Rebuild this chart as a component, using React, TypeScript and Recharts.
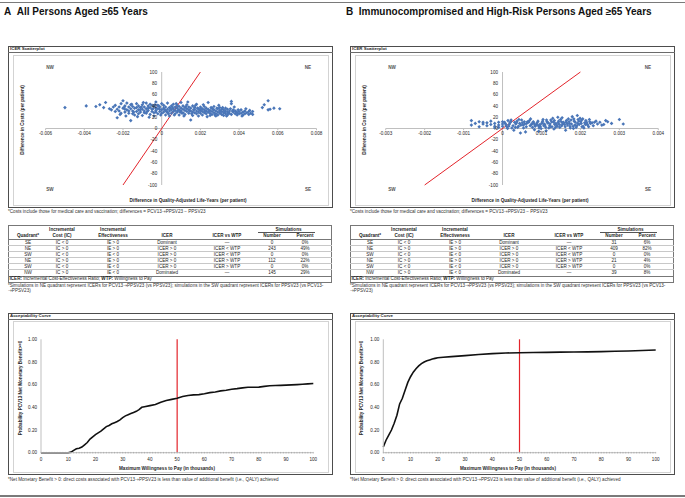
import React from "react";
import {
  ScatterChart,
  Scatter,
  LineChart,
  Line,
  XAxis,
  YAxis,
  ReferenceLine,
  ReferenceDot,
} from "recharts";

// ---------- data ----------
// [QALY difference, cost difference] per simulation (read off the scatterplots)
const scatterA: [number, number][] = [
  [-0.005, 37], [-0.0039, 40], [-0.0034, 39], [-0.0032, 42], [-0.003, 37], [-0.0029, 46],
  [-0.0027, 35], [-0.0026, 33], [-0.0025, 38], [-0.0024, 41], [-0.0023, 19], [-0.0023, 34],
  [-0.0022, 31], [-0.0021, 44], [-0.002, 36], [-0.002, 49], [-0.0019, 29], [-0.0019, 40],
  [-0.0018, 33], [-0.0018, 45], [-0.0017, 38], [-0.0017, 27], [-0.0016, 14], [-0.0016, 35],
  [-0.0016, 42], [-0.0015, 31], [-0.0015, 39], [-0.0014, 24], [-0.0014, 36], [-0.0013, 44],
  [-0.0013, 30], [-0.0012, 33], [-0.0012, 40], [-0.0012, 26], [-0.0011, 37], [-0.0011, 29],
  [-0.001, 42], [-0.001, 34], [-0.001, 23], [-0.0009, 38], [-0.0009, 31], [-0.0008, 45],
  [-0.0008, 27], [-0.0008, 35], [-0.0007, 40], [-0.0007, 32], [-0.0006, 25], [-0.0006, 37],
  [-0.0006, 43], [-0.0005, 30], [-0.0005, 34], [-0.0004, 39], [-0.0004, 22], [-0.0004, 28],
  [-0.0003, 36], [-0.0003, 47], [-0.0003, 32], [-0.0002, 41], [-0.0002, 26], [-0.0002, 35],
  [-0.0001, 30], [-0.0001, 38], [0, 33], [0, 44], [0, 27],
  [-0.0024, 30], [-0.0022, 38], [-0.0021, 27], [-0.0019, 34], [-0.0017, 31], [-0.0015, 26],
  [-0.0013, 37], [-0.0011, 33], [-0.0009, 28], [-0.0007, 36], [-0.0005, 41], [-0.0003, 29],
  [-0.0001, 34],
  [-0.00215, 25], [-0.00185, 22], [-0.00155, 43], [-0.00125, 21], [-0.00095, 46], [-0.00065, 20],
  [-0.00035, 42], [-0.00005, 24], [-0.00195, 37], [-0.00145, 29], [-0.00105, 38], [-0.00075, 30],
  [-0.00045, 35], [-0.00015, 40],
  [0.0001, 36], [0.0001, 29], [0.0001, 41], [0.0002, 32], [0.0002, 24], [0.0002, 38],
  [0.0003, 34], [0.0003, 45], [0.0003, 28], [0.0004, 31], [0.0004, 37], [0.0004, 22],
  [0.0005, 40], [0.0005, 33], [0.0005, 27], [0.0006, 35], [0.0006, 30], [0.0006, 43],
  [0.0007, 26], [0.0007, 38], [0.0007, 32], [0.0008, 36], [0.0008, 29], [0.0008, 41],
  [0.0009, 33], [0.0009, 24], [0.0009, 39], [0.001, 31], [0.001, 36], [0.001, 46],
  [0.0011, 28], [0.0011, 34], [0.0011, 40], [0.0012, 32], [0.0012, 25], [0.0012, 37],
  [0.0013, 30], [0.0013, 42], [0.0013, 35], [0.0014, 27], [0.0014, 33], [0.0014, 38],
  [0.0015, 15], [0.0015, 31], [0.0015, 36], [0.0016, 29], [0.0016, 40], [0.0016, 23],
  [0.0017, 34], [0.0017, 28], [0.0017, 37], [0.0018, 31], [0.0018, 26], [0.0018, 43],
  [0.0019, 35], [0.0019, 29], [0.0019, 22], [0.002, 32], [0.002, 38], [0.002, 27],
  [0.0021, 30], [0.0021, 35], [0.0021, 24], [0.0022, 33], [0.0022, 28], [0.0022, 39],
  [0.0023, 26], [0.0023, 31], [0.0023, 36], [0.0024, 46], [0.0024, 29], [0.0024, 34],
  [0.0025, 27], [0.0025, 32], [0.0025, 23], [0.0026, 30], [0.0026, 36], [0.0026, 25],
  [0.0027, 28], [0.0027, 33], [0.0027, 39], [0.0028, 26], [0.0028, 31], [0.0028, 22],
  [0.0029, 29], [0.0029, 35], [0.0029, 24], [0.003, 27], [0.003, 32], [0.003, 37],
  [0.0031, 25], [0.0031, 30], [0.0031, 34], [0.0032, 28], [0.0032, 23], [0.0032, 33],
  [0.0033, 26], [0.0033, 31], [0.0033, 36], [0.0034, 29], [0.0034, 24], [0.0034, 34],
  [0.0035, 27], [0.0035, 31], [0.0036, 44], [0.0036, 48], [0.0036, 25], [0.0037, 29],
  [0.0037, 33], [0.0038, 26], [0.0038, 31], [0.0039, 28], [0.0039, 24], [0.004, 30],
  [0.004, 26], [0.0041, 33], [0.0041, 27], [0.0042, 29], [0.0042, 24], [0.0043, 31],
  [0.0043, 26], [0.0044, 28], [0.0045, 30], [0.0045, 25], [0.0046, 27], [0.0047, 25],
  [0.0047, 30], [0.0052, 37], [0.0053, 42], [0.0055, 49], [0.0055, 33], [0.0056, 34],
  [0.0058, 36], [0.0061, 35],
  [0.00015, 33], [0.00035, 26], [0.00055, 38], [0.00075, 44], [0.00095, 29], [0.00115, 22],
  [0.00135, 47], [0.00155, 26], [0.00175, 41], [0.00195, 33], [0.00215, 42], [0.00235, 21],
  [0.00255, 37], [0.00275, 24], [0.00295, 41], [0.00315, 37], [0.00335, 22], [0.00355, 35],
  [0.00375, 38], [0.00395, 33], [0.00415, 22], [0.00435, 35], [0.00455, 32],
  [0.00025, 30], [0.00065, 24], [0.00105, 27], [0.00145, 31], [0.00185, 36], [0.00225, 30],
  [0.00265, 34], [0.00305, 30], [0.00345, 27], [0.00385, 29],
  [0.00045, 35], [0.00085, 32], [0.00125, 39], [0.00165, 33], [0.00205, 35], [0.00245, 31],
  [0.00285, 36], [0.00325, 29], [0.00365, 31],
];

const scatterB: [number, number][] = [
  [-0.0008, 14], [-0.0008, 6], [-0.0007, 9], [-0.0006, 12], [-0.0006, 3], [-0.0005, 8],
  [-0.0005, 11], [-0.0004, 5], [-0.0004, 10], [-0.0003, 7], [-0.0003, 13], [-0.0002, 4],
  [-0.0002, 9], [-0.0002, 1], [-0.0001, 11], [-0.0001, 6], [-0.0001, 2], [0, 8], [0, 12], [0, 4],
  [0.00007, 9], [0.00011, 3], [0.00014, 14], [0.00009, 6],
  [0.00017, 7], [0.00021, 12], [0.00024, 1], [0.00019, 10],
  [0.00027, 5], [0.00031, 11], [0.00034, 8], [0.00029, -3],
  [0.00037, 13], [0.00041, 4], [0.00044, 9], [0.00039, 2],
  [0.00047, 6], [0.00051, 10], [0.00054, 1], [0.00049, 15], [0.00046, -8],
  [0.00057, 8], [0.00061, 3], [0.00064, 12], [0.00059, -6],
  [0.00067, 11], [0.00071, 5], [0.00074, 7], [0.00069, 14],
  [0.00077, 2], [0.00081, 9], [0.00084, 4], [0.00079, 12], [0.00082, -2],
  [0.00087, 7], [0.00091, 13], [0.00094, 1], [0.00089, 10], [0.00092, 5],
  [0.00097, 4], [0.00101, 9], [0.00104, 16], [0.00099, 0], [0.00102, 11],
  [0.00107, 8], [0.00111, 2], [0.00114, 12], [0.00109, 6], [0.00112, -4],
  [0.00117, 10], [0.00121, 5], [0.00124, 15], [0.00119, 1], [0.00122, 8],
  [0.00127, 3], [0.00131, 11], [0.00134, 7], [0.00129, 18], [0.00132, -1],
  [0.00137, 9], [0.00141, 4], [0.00144, 13], [0.00139, 6], [0.00142, 20],
  [0.00147, 2], [0.00151, 12], [0.00154, 8], [0.00149, 16], [0.00152, 5],
  [0.00157, 10], [0.00161, 3], [0.00164, 14], [0.00159, 7], [0.00162, -3],
  [0.00167, 6], [0.00171, 12], [0.00174, 1], [0.00169, 17], [0.00172, 9],
  [0.00177, 8], [0.00181, 4], [0.00184, 13], [0.00179, 21], [0.00182, 0],
  [0.00187, 11], [0.00191, 5], [0.00194, 16], [0.00189, 2], [0.00192, 23],
  [0.00197, 7], [0.00201, 12], [0.00204, 3], [0.00199, 18], [0.00202, 9],
  [0.00207, 4], [0.00211, 10], [0.00214, 14], [0.00209, 1],
  [0.00217, 8], [0.00221, 3], [0.00224, 12], [0.00219, 6],
  [0.0023, 10], [0.00233, 5], [0.0024, 13], [0.00244, 8], [0.0025, 11], [0.0026, 7],
  [0.0027, 12], [0.0028, 9], [0.003, 16], [0.0031, 8],
  [0.00005, 11], [0.00013, 0], [0.00022, 15], [0.00033, 2], [0.00042, 16], [0.00053, 6],
  [0.00062, 9], [0.00072, 17], [0.00083, 6], [0.00093, -5], [0.00103, 13], [0.00113, 15],
  [0.00123, 3], [0.00133, 14], [0.00143, 10], [0.00153, 19], [0.00163, 11], [0.00173, 4],
  [0.00183, 17], [0.00193, 9], [0.00203, 15], [0.00213, 7], [0.00223, 16],
  [0.00016, 4], [0.00036, 10], [0.00056, 12], [0.00076, 9], [0.00096, 7], [0.00116, 10],
  [0.00136, 2], [0.00156, 11], [0.00176, 15], [0.00196, 13], [0.00216, 11],
  [0.00106, 5], [0.00126, 12], [0.00146, 7], [0.00166, 9], [0.00186, 6], [0.00206, 17],
  [0.00226, 9], [0.00236, 11], [0.00255, 6], [0.00265, 14],
];

const costTicks = [100, 80, 60, 40, 20, 0, -20, -40, -60, -80, -100];
const qalyTicksA = [-0.006, -0.004, -0.002, 0, 0.002, 0.004, 0.006, 0.008];
const qalyTicksB = [-0.003, -0.002, -0.001, 0, 0.001, 0.002, 0.003, 0.004];

// WTP threshold line ($50,000 per QALY)
const wtpLineQaly = [-0.002, 0.002];
const wtpLineCost = [-100, 100];

// acceptability curves: WTP (thousands) vs probability NMB >= 0
const wtpA = [0, 5, 10, 11, 12, 13, 14, 15, 16, 17, 18, 19, 20, 21, 22, 23, 24, 25, 26, 27, 28, 29, 30, 31, 32, 33, 34, 35, 36, 37, 38, 40, 42, 44, 46, 48, 50, 52, 54, 56, 58, 60, 62, 64, 66, 68, 70, 72, 74, 76, 78, 80, 82, 84, 86, 88, 90, 92, 94, 96, 98, 100];
const probA = [0, 0, 0, 0.005, 0.02, 0.035, 0.04, 0.05, 0.07, 0.09, 0.12, 0.14, 0.16, 0.175, 0.19, 0.21, 0.23, 0.24, 0.255, 0.265, 0.275, 0.29, 0.31, 0.325, 0.335, 0.345, 0.355, 0.365, 0.38, 0.4, 0.405, 0.415, 0.425, 0.445, 0.46, 0.47, 0.48, 0.495, 0.505, 0.51, 0.512, 0.52, 0.53, 0.535, 0.545, 0.55, 0.56, 0.565, 0.572, 0.577, 0.577, 0.578, 0.585, 0.59, 0.592, 0.594, 0.596, 0.598, 0.6, 0.603, 0.607, 0.61];
const wtpB = [0, 1, 2, 3, 4, 5, 6, 7, 8, 9, 10, 11, 12, 13, 14, 15, 16, 17, 18, 19, 20, 22, 25, 30, 35, 40, 45, 50, 55, 60, 65, 70, 75, 80, 85, 90, 95, 100];
const probB = [0.05, 0.11, 0.155, 0.2, 0.26, 0.33, 0.43, 0.48, 0.55, 0.62, 0.67, 0.71, 0.74, 0.765, 0.785, 0.8, 0.81, 0.818, 0.826, 0.832, 0.838, 0.842, 0.847, 0.856, 0.866, 0.874, 0.879, 0.882, 0.883, 0.885, 0.887, 0.888, 0.889, 0.891, 0.894, 0.897, 0.901, 0.906];
const probTicks = [0, 0.2, 0.4, 0.6, 0.8, 1];
const wtpMinorTicks = Array.from({ length: 101 }, (_, i) => i);

// quadrant table
const quadrants = ["SE", "NE", "SW", "NE", "SW", "NW"];
const incCost = ["IC < 0", "IC > 0", "IC < 0", "IC > 0", "IC < 0", "IC > 0"];
const incEff = ["IE > 0", "IE > 0", "IE < 0", "IE > 0", "IE < 0", "IE < 0"];
const icerSign = ["Dominant", "ICER > 0", "ICER > 0", "ICER > 0", "ICER > 0", "Dominated"];
const icerVsWtp = ["—", "ICER < WTP", "ICER < WTP", "ICER > WTP", "ICER > WTP", "—"];
const simNumA = [0, 243, 0, 112, 0, 145];
const simPctA = ["0%", "49%", "0%", "22%", "0%", "29%"];
const simNumB = [31, 409, 0, 21, 0, 39];
const simPctB = ["6%", "82%", "0%", "4%", "0%", "8%"];

// ---------- styling ----------
const FONT = '"Liberation Sans", "DejaVu Sans", Arial, sans-serif';
const INK = "#262626";
const BLUE = "#4a76b8";
const RED = "#e3242b";
const AXIS = "#bfbfbf";
const FS = 4.6;

const Arrow = () => <span style={{ fontFamily: '"DejaVu Sans", sans-serif' }}>→</span>;

type TxtProps = {
  x: number;
  y: number;
  children: React.ReactNode;
  size?: number;
  bold?: boolean;
  anchor?: "start" | "middle" | "end";
  rotate?: boolean;
  color?: string;
};

function Txt({ x, y, children, size = FS, bold = false, anchor = "middle", rotate = false, color = INK }: TxtProps) {
  const tx = anchor === "middle" ? "-50%" : anchor === "end" ? "-100%" : "0";
  return (
    <div
      style={{
        position: "absolute",
        left: x,
        top: y,
        transform: `translate(${tx},-50%)${rotate ? " rotate(-90deg)" : ""}`,
        fontSize: size,
        fontWeight: bold ? 700 : 400,
        color,
        whiteSpace: "nowrap",
        lineHeight: 1,
      }}
    >
      {children}
    </div>
  );
}

function Rect({ x, y, w, h, color = "#555", width = 1 }: { x: number; y: number; w: number; h: number; color?: string; width?: number }) {
  return (
    <div
      style={{
        position: "absolute",
        left: x,
        top: y,
        width: w,
        height: h,
        border: `${width}px solid ${color}`,
        boxSizing: "border-box",
      }}
    />
  );
}

function HLine({ x, y, w, color = "#555", h = 1 }: { x: number; y: number; w: number; color?: string; h?: number }) {
  return <div style={{ position: "absolute", left: x, top: y, width: w, height: h, background: color }} />;
}

function Frame({ x, y, w, h, title, headerY }: { x: number; y: number; w: number; h: number; title: string; headerY: number }) {
  return (
    <>
      <Rect x={x} y={y} w={w} h={h} color="#4d4d4d" />
      <Txt x={x + 2} y={y + 3} anchor="start" bold size={4.4}>
        {title}
      </Txt>
      <HLine x={x} y={headerY} w={w} color="#6b6b6b" />
      <Rect x={x + 4.5} y={headerY + 2.5} w={w - 9} h={h - (headerY - y) - 5} color="#d3d3d3" />
    </>
  );
}

const Diamond = (props: any) => {
  const { cx, cy } = props;
  if (cx == null || cy == null) return null;
  const r = 1.8;
  return <path d={`M${cx},${cy - r}L${cx + r},${cy}L${cx},${cy + r}L${cx - r},${cy}Z`} fill={BLUE} />;
};

const fmtQaly = (t: number) => (t === 0 ? "0" : t.toFixed(3));

function IcerScatter({
  left,
  width,
  plotLeft,
  plotRight,
  data,
  xTicks,
}: {
  left: number;
  width: number;
  plotLeft: number;
  plotRight: number;
  data: [number, number][];
  xTicks: number[];
}) {
  const pts = data.map(([q, c]) => ({ q, c }));
  const xDomain = [xTicks[0], xTicks[xTicks.length - 1]];
  return (
    <div style={{ position: "absolute", left, top: 40 }}>
      <ScatterChart
        width={width}
        height={180}
        margin={{ top: 32, bottom: 35, left: plotLeft - left, right: left + width - plotRight }}
      >
        <XAxis type="number" dataKey="q" domain={xDomain} hide />
        <YAxis type="number" dataKey="c" domain={[-100, 100]} hide />
        <ReferenceLine y={0} stroke={AXIS} />
        <ReferenceLine x={0} stroke={AXIS} />
        {xTicks.map((t) => (
          <ReferenceLine key={`xt${t}`} segment={[{ x: t, y: 0 }, { x: t, y: -3 }]} stroke={AXIS} />
        ))}
        {xTicks.map((t) => (
          <ReferenceDot
            key={`xl${t}`}
            x={t}
            y={0}
            r={0}
            fill="none"
            stroke="none"
            label={{ value: fmtQaly(t), position: "bottom", offset: 3.5, fontSize: FS, fill: INK }}
          />
        ))}
        {costTicks.map((t) => (
          <ReferenceDot
            key={`yl${t}`}
            x={0}
            y={t}
            r={0}
            fill="none"
            stroke="none"
            label={{ value: String(t), position: "left", offset: 4.5, fontSize: FS, fill: INK }}
          />
        ))}
        <Scatter data={pts} shape={Diamond} isAnimationActive={false} />
        <ReferenceLine
          segment={[
            { x: wtpLineQaly[0], y: wtpLineCost[0] },
            { x: wtpLineQaly[1], y: wtpLineCost[1] },
          ]}
          stroke={RED}
          strokeWidth={1}
        />
      </ScatterChart>
    </div>
  );
}

const WtpTick = (props: any) => {
  const { x, y, payload } = props;
  const v = payload.value as number;
  return (
    <g>
      <line x1={x} x2={x} y1={y - 0.8} y2={y + 0.8} stroke="#9a9a9a" strokeWidth={0.6} />
      {v % 10 === 0 && (
        <text x={x} y={y + 8.2} textAnchor="middle" fontSize={FS} fill={INK}>
          {v}
        </text>
      )}
    </g>
  );
};

function Acceptability({
  left,
  width,
  plotLeft,
  plotRight,
  wtp,
  prob,
}: {
  left: number;
  width: number;
  plotLeft: number;
  plotRight: number;
  wtp: number[];
  prob: number[];
}) {
  const rows = wtp.map((w, i) => ({ w, p: prob[i] }));
  return (
    <div style={{ position: "absolute", left, top: 300 }}>
      <LineChart
        width={width}
        height={198}
        data={rows}
        margin={{ top: 39.3, bottom: 30.3, left: plotLeft - left - 20, right: left + width - plotRight }}
      >
        <XAxis
          type="number"
          dataKey="w"
          domain={[0, 100]}
          ticks={wtpMinorTicks}
          interval={0}
          height={15}
          tickSize={0}
          tickMargin={0}
          tickLine={false}
          axisLine={{ stroke: AXIS }}
          tick={(p: any) => <WtpTick {...p} />}
        />
        <YAxis
          type="number"
          domain={[0, 1]}
          ticks={probTicks}
          width={20}
          tickSize={2}
          tickMargin={2}
          tickLine={false}
          axisLine={{ stroke: AXIS }}
          tick={{ fontSize: FS, fill: INK }}
          tickFormatter={(v: number) => v.toFixed(2)}
        />
        <ReferenceLine x={50} stroke={RED} strokeWidth={1.2} />
        <Line type="linear" dataKey="p" stroke="#111" strokeWidth={1.6} dot={false} isAnimationActive={false} />
      </LineChart>
    </div>
  );
}

// column centres relative to the table's left edge
const colX = [20, 54, 105, 159, 219, 264, 297];
const rowY = [242.6, 248.6, 254.6, 260.6, 266.6, 272.6];

function SimTable({ left, width, nums, pcts }: { left: number; width: number; nums: number[]; pcts: string[] }) {
  const c = colX.map((v) => left + v);
  const head2 = ["Quadrant*", "Cost (IC)", "Effectiveness", "ICER", "ICER vs WTP", "Number", "Percent"];
  return (
    <>
      <Rect x={left} y={225} w={width} h={57.6} color="#777" />
      <Txt x={c[1]} y={229.5} bold>Incremental</Txt>
      <Txt x={c[2]} y={229.5} bold>Incremental</Txt>
      <Txt x={(c[5] + c[6]) / 2} y={229.5} bold>Simulations</Txt>
      <HLine x={left + 250} y={232.2} w={57} color="#555" h={0.6} />
      {head2.map((h, i) => (
        <Txt key={h} x={c[i]} y={236} bold>
          {h}
        </Txt>
      ))}
      <HLine x={left} y={239.2} w={width} color="#777" h={0.8} />
      {rowY.slice(1).map((y) => (
        <HLine key={y} x={left} y={y - 3.2} w={width} color="#c8c8c8" h={0.6} />
      ))}
      {quadrants.map((q, i) => (
        <React.Fragment key={i}>
          <Txt x={c[0]} y={rowY[i]}>{q}</Txt>
          <Txt x={c[1]} y={rowY[i]}>{incCost[i]}</Txt>
          <Txt x={c[2]} y={rowY[i]}>{incEff[i]}</Txt>
          <Txt x={c[3]} y={rowY[i]}>{icerSign[i]}</Txt>
          <Txt x={c[4]} y={rowY[i]}>{icerVsWtp[i]}</Txt>
          <Txt x={c[5]} y={rowY[i]}>{nums[i]}</Txt>
          <Txt x={c[6]} y={rowY[i]}>{pcts[i]}</Txt>
        </React.Fragment>
      ))}
      <HLine x={left} y={275.6} w={width} color="#777" h={0.8} />
      <Txt x={left + 1.5} y={279.2} anchor="start">
        <b>ICER:</b> Incremental Cost-Effectiveness Ratio; <b>WTP:</b> Willingness to Pay
      </Txt>
      <Txt x={left} y={286} anchor="start" color="#333">
        *Simulations in NE quadrant represent ICERs for PCV13<Arrow />PPSV23 (vs PPSV23); simulations in the SW quadrant represent ICERs for PPSV23 (vs PCV13-
      </Txt>
      <Txt x={left} y={291.4} anchor="start" color="#333">
        <Arrow />PPSV23)
      </Txt>
    </>
  );
}

function Panel({
  x0,
  label,
  title,
  data,
  xTicks,
  plotLeft,
  plotRight,
  nums,
  pcts,
  wtp,
  prob,
  curveLeft,
  curveRight,
  xTitleS,
  yTitleS,
  xTitleA,
  yTitleA,
  quadX,
}: any) {
  return (
    <>
      <Txt x={x0 - 4} y={12} anchor="start" bold size={10} color="#111">
        {label}&nbsp;&nbsp;{title}
      </Txt>

      <Frame x={x0} y={46} w={325} h={162} title="ICER Scatterplot" headerY={52} />
      <Txt x={quadX[0]} y={68} bold color="#555">NW</Txt>
      <Txt x={quadX[1]} y={68} bold color="#555">NE</Txt>
      <Txt x={quadX[0]} y={190} bold color="#555">SW</Txt>
      <Txt x={quadX[1]} y={190} bold color="#555">SE</Txt>
      <Txt x={yTitleS} y={120} bold rotate>Difference in Costs (per patient)</Txt>
      <Txt x={xTitleS} y={200.6} bold>Difference in Quality-Adjusted Life-Years (per patient)</Txt>
      <Txt x={x0} y={212.4} anchor="start" color="#333">
        *Costs include those for medical care and vaccination; differences = PCV13<Arrow />PPSV23 − PPSV23
      </Txt>

      <SimTable left={x0} width={324} nums={nums} pcts={pcts} />

      <Frame x={x0} y={312.7} w={325} h={162.3} title="Acceptability Curve" headerY={318.5} />
      <Txt x={yTitleA} y={388} bold rotate>Probability PCV13 Net Monetary Benefit&gt;=0</Txt>
      <Txt x={xTitleA} y={469.3} bold>Maximum Willingness to Pay (in thousands)</Txt>
      <Txt x={x0} y={480.2} anchor="start" color="#333">
        *Net Monetary Benefit &gt; 0: direct costs associated with PCV13<Arrow />PPSV23 is less than value of additional benefit (i.e., QALY) achieved
      </Txt>

      <IcerScatter
        left={x0 - 8}
        width={340}
        plotLeft={plotLeft}
        plotRight={plotRight}
        data={data}
        xTicks={xTicks}
      />
      <Acceptability
        left={x0 - 8}
        width={340}
        plotLeft={curveLeft}
        plotRight={curveRight}
        wtp={wtp}
        prob={prob}
      />
    </>
  );
}

export default function App() {
  return (
    <div
      style={{
        position: "absolute",
        left: 0,
        top: 0,
        width: 685,
        height: 498,
        background: "#fff",
        fontFamily: FONT,
        overflow: "hidden",
      }}
    >
      <HLine x={0} y={1.5} w={685} color="#7a7a7a" h={1.5} />
      <HLine x={0} y={495} w={685} color="#7a7a7a" h={1.5} />
      <Panel
        x0={8}
        label="A"
        title="All Persons Aged ≥65 Years"
        data={scatterA}
        xTicks={qalyTicksA}
        plotLeft={45.6}
        plotRight={316.5}
        nums={simNumA}
        pcts={simPctA}
        wtp={wtpA}
        prob={probA}
        curveLeft={41}
        curveRight={313.3}
        xTitleS={188}
        yTitleS={23}
        xTitleA={167}
        yTitleA={21}
        quadX={[50, 308]}
      />
      <Panel
        x0={350}
        label="B"
        title="Immunocompromised and High-Risk Persons Aged ≥65 Years"
        data={scatterB}
        xTicks={qalyTicksB}
        plotLeft={385.7}
        plotRight={658.3}
        nums={simNumB}
        pcts={simPctB}
        wtp={wtpB}
        prob={probB}
        curveLeft={383.3}
        curveRight={655.7}
        xTitleS={530}
        yTitleS={365}
        xTitleA={508}
        yTitleA={362}
        quadX={[392, 648]}
      />
    </div>
  );
}
